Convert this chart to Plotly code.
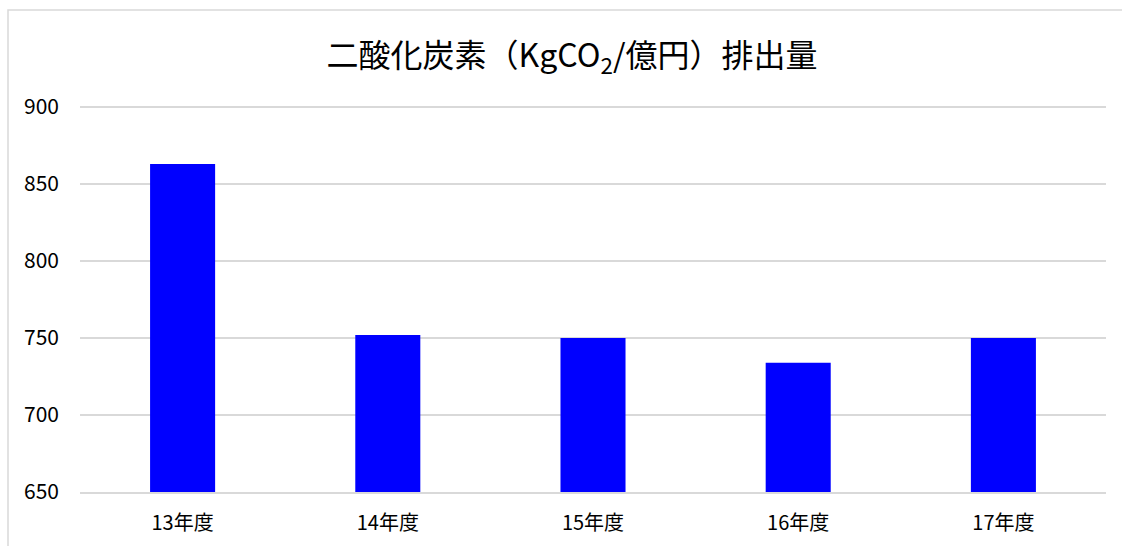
import plotly.graph_objects as go

# Fiscal years and CO2 emission intensity (kg-CO2 per 100 million yen)
years = ["13年度", "14年度", "15年度", "16年度", "17年度"]
emissions = [863, 752, 750, 734, 750]
y_ticks = [650, 700, 750, 800, 850, 900]

W, H = 1122, 546
L, R, T, B = 80, 16, 104, 54

fig = go.Figure(
    go.Bar(
        x=years,
        y=emissions,
        marker=dict(color="#0000ff", line=dict(width=0)),
        width=0.317,
    )
)

font_family = "Noto Sans CJK JP"
plot_w = W - L - R
plot_h = H - T - B

fig.update_layout(
    width=W,
    height=H,
    margin=dict(l=L, r=R, t=T, b=B),
    paper_bgcolor="white",
    plot_bgcolor="white",
    showlegend=False,
    font=dict(family=font_family, color="#000000"),
    title=dict(
        text="二酸化炭素（KgCO<sub>2</sub>/億円）排出量",
        x=572 / W,
        xanchor="center",
        y=1 - 56 / H,
        yanchor="middle",
        font=dict(size=32, family=font_family, color="#000000"),
    ),
    xaxis=dict(
        automargin=False,
        showgrid=False,
        # baseline at 650 doubles as the lowest grid line
        showline=True,
        linecolor="#d9d9d9",
        linewidth=1.5,
        ticks="",
        ticklabelstandoff=12,
        tickfont=dict(size=20, family=font_family, color="#000000"),
    ),
    yaxis=dict(
        automargin=False,
        range=[650, 902],
        tickvals=y_ticks,
        showgrid=True,
        gridcolor="#d9d9d9",
        gridwidth=1.5,
        zeroline=False,
        showline=False,
        ticks="",
        ticklabelstandoff=20,
        tickfont=dict(size=21, family=font_family, color="#000000"),
    ),
    shapes=[
        # outer chart frame
        dict(
            type="rect",
            xref="paper",
            yref="paper",
            x0=(8 - L) / plot_w,
            x1=(W + 5 - L) / plot_w,
            y0=-(B + 20) / plot_h,
            y1=(H - B - 10) / plot_h,
            line=dict(color="#d9d9d9", width=1.5),
            fillcolor="rgba(0,0,0,0)",
            layer="below",
        )
    ],
)

fig.write_html("out.html")
